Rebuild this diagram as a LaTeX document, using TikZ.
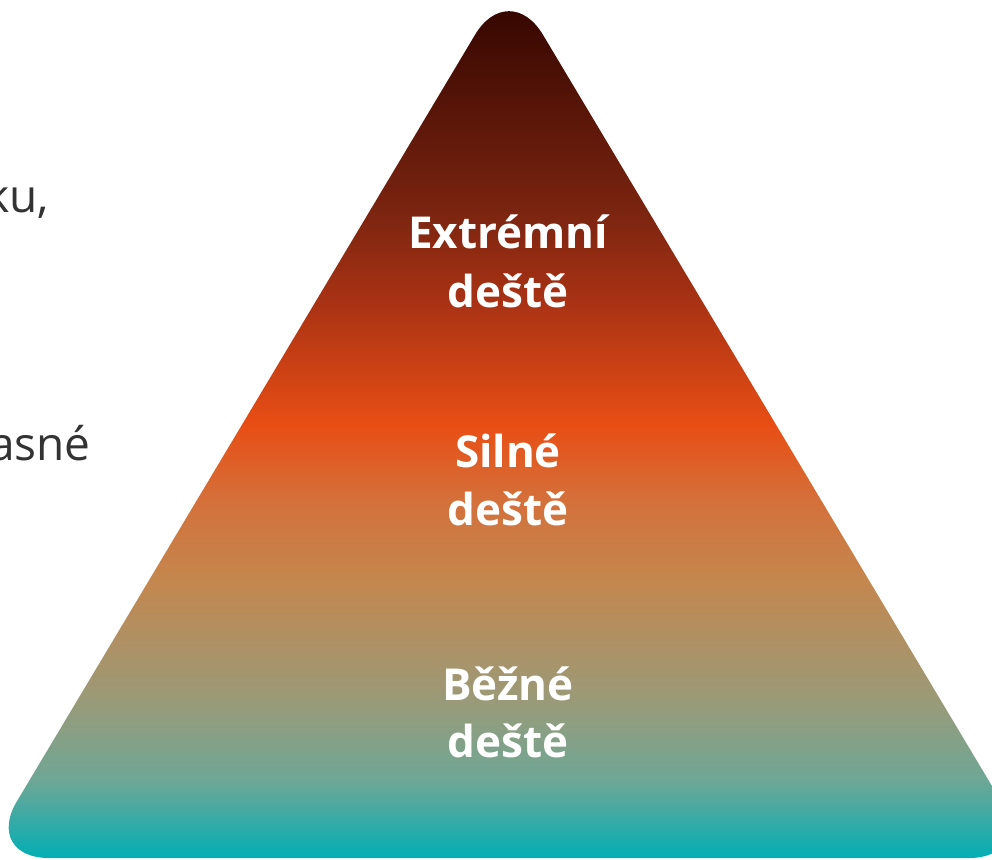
\documentclass[tikz,border=0pt]{standalone}
\usepackage{fontspec}
\setmainfont{Open Sans}
\definecolor{gA}{HTML}{360700}
\definecolor{gB}{HTML}{7A2410}
\definecolor{gC}{HTML}{A83214}
\definecolor{gD}{HTML}{E84E14}
\definecolor{gE}{HTML}{D4703A}
\definecolor{gF}{HTML}{C4874E}
\definecolor{gG}{HTML}{9A9A78}
\definecolor{gH}{HTML}{6EA796}
\definecolor{gI}{HTML}{00AEB5}
\definecolor{lefttext}{HTML}{333333}
\pgfdeclareverticalshading{rainshade}{100bp}{%
  color(0bp)=(gI); color(25bp)=(gI); color(29.6bp)=(gH); color(34.25bp)=(gG);
  color(41.24bp)=(gF); color(45.9bp)=(gE); color(50.26bp)=(gD);
  color(57.54bp)=(gC); color(62.78bp)=(gB); color(74.4bp)=(gA); color(100bp)=(gA)}
\tikzset{
  lvl/.style={text=white, font=\bfseries\fontsize{44}{56}\selectfont, anchor=base, inner sep=0pt},
  side/.style={text=lefttext, font=\fontsize{46}{56}\selectfont, anchor=base east, inner sep=0pt}
}
\begin{document}
\begin{tikzpicture}[x=1pt,y=-1pt]
\useasboundingbox (0,0) rectangle (992,859);
\clip (0,0) rectangle (992,859);
\begin{scope}
  \clip[rounded corners=66pt] (509,-22) -- (1035,858) -- (-17,858) -- cycle;
  \shade[shading=rainshade] (-20,0) rectangle (1040,859);
\end{scope}
\node[side] (t1) at (49,212) {ku,};
\node[side] (t2) at (91,460) {asné};
\node[lvl] (a1) at (508,248) {Extrémní};
\node[lvl] (a2) at (508,307) {deště};
\node[lvl] (b1) at (508,467) {Silné};
\node[lvl] (b2) at (508,525) {deště};
\node[lvl] (c1) at (508,700) {Běžné};
\node[lvl] (c2) at (508,757) {deště};
\end{tikzpicture}
\end{document}
